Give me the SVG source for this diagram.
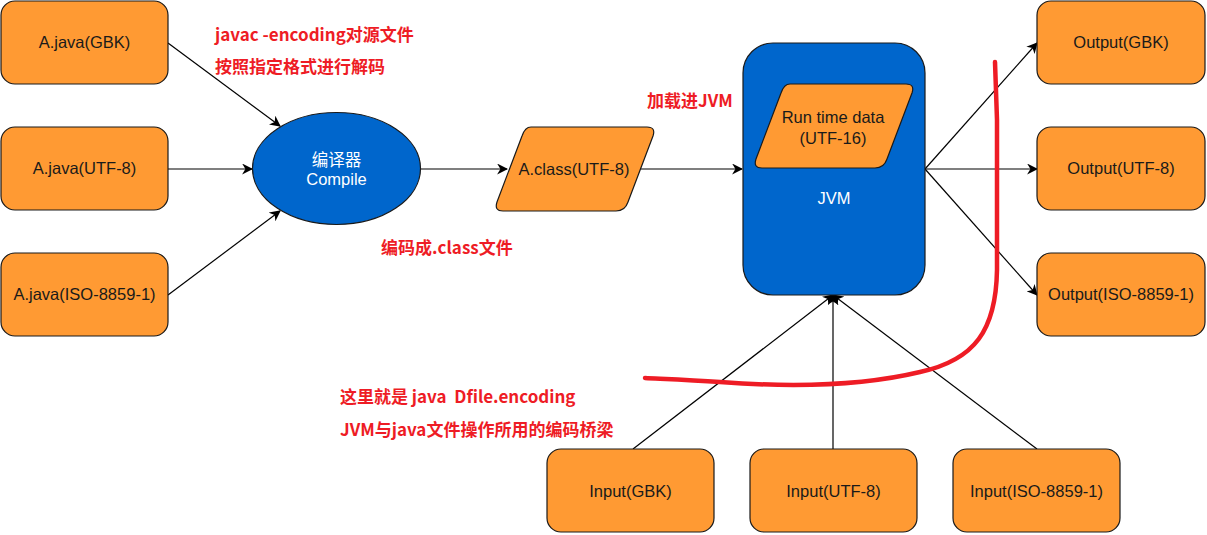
<svg xmlns="http://www.w3.org/2000/svg" width="1207" height="535" viewBox="0 0 1207 535">
<defs>
<style>
.box{fill:#FF9A33;stroke:#1a1a1a;stroke-width:1.2}
.blue{fill:#0066CC;stroke:#1a1a1a;stroke-width:1.2}
.lbl{font-family:"Liberation Sans",Arial,sans-serif;font-size:16.5px;fill:#1a1a1a;text-anchor:middle}
.wlbl{font-family:"Liberation Sans","Noto Sans CJK SC",sans-serif;font-size:16.5px;fill:#ffffff;text-anchor:middle}
.note{font-family:"Noto Sans CJK SC",sans-serif;font-size:17px;font-weight:bold;fill:#EE1C25}
.edge{stroke:#000;stroke-width:1.2;fill:none}
</style>
<marker id="arr" viewBox="0 0 10 10" refX="9" refY="5" markerWidth="11" markerHeight="11" markerUnits="userSpaceOnUse" orient="auto">
<path d="M0,0 L10,5 L0,10 L3,5 z" fill="#000"/>
</marker>
</defs>
<rect width="1207" height="535" fill="#ffffff"/>

<g id="connectors">
<line class="edge" x1="168" y1="43" x2="280" y2="126" marker-end="url(#arr)"/>
<line class="edge" x1="168" y1="169" x2="252" y2="169" marker-end="url(#arr)"/>
<line class="edge" x1="168" y1="295" x2="280" y2="211" marker-end="url(#arr)"/>
<line class="edge" x1="420" y1="169" x2="507" y2="169" marker-end="url(#arr)"/>
<line class="edge" x1="641" y1="169" x2="742" y2="169" marker-end="url(#arr)"/>
<line class="edge" x1="925" y1="169" x2="1037" y2="43" marker-end="url(#arr)"/>
<line class="edge" x1="925" y1="169" x2="1037" y2="169" marker-end="url(#arr)"/>
<line class="edge" x1="925" y1="169" x2="1037" y2="295" marker-end="url(#arr)"/>
<line class="edge" x1="633" y1="449" x2="833" y2="295" marker-end="url(#arr)"/>
<line class="edge" x1="833" y1="449" x2="833" y2="295" marker-end="url(#arr)"/>
<line class="edge" x1="1037" y1="449" x2="833" y2="295" marker-end="url(#arr)"/>
</g>

<g id="src-gbk"><rect class="box" x="1" y="1" width="167" height="83" rx="14"/><text class="lbl" x="84.5" y="48">A.java(GBK)</text></g>
<g id="src-utf8"><rect class="box" x="1" y="127" width="167" height="83" rx="14"/><text class="lbl" x="84.5" y="174">A.java(UTF-8)</text></g>
<g id="src-iso"><rect class="box" x="1" y="253" width="167" height="83" rx="14"/><text class="lbl" x="84.5" y="300">A.java(ISO-8859-1)</text></g>

<g id="compiler"><ellipse class="blue" cx="336.5" cy="168.5" rx="84" ry="56"/>
<text class="wlbl" x="336.5" y="166">编译器</text><text class="wlbl" x="336.5" y="185">Compile</text></g>

<g id="class-file"><path class="box" d="M531,127 L647,127 Q656,127 653,136 L628,202 Q625,211 616,211 L503,211 Q494,211 497,202 L522,136 Q525,127 531,127 Z"/>
<text class="lbl" x="574" y="175">A.class(UTF-8)</text></g>

<g id="jvm"><rect class="blue" x="743" y="43" width="182" height="252" rx="30"/>
<text class="wlbl" x="834" y="204">JVM</text></g>

<g id="runtime"><path class="box" d="M790,84 L906,84 Q915,84 912,93 L887,159 Q884,168 875,168 L762,168 Q753,168 756,159 L781,93 Q784,84 790,84 Z"/>
<text class="lbl" x="833" y="123">Run time data</text><text class="lbl" x="833" y="144">(UTF-16)</text></g>

<g id="out-gbk"><rect class="box" x="1037" y="1" width="168" height="83" rx="14"/><text class="lbl" x="1121" y="48">Output(GBK)</text></g>
<g id="out-utf8"><rect class="box" x="1037" y="127" width="168" height="83" rx="14"/><text class="lbl" x="1121" y="174">Output(UTF-8)</text></g>
<g id="out-iso"><rect class="box" x="1037" y="253" width="168" height="83" rx="14"/><text class="lbl" x="1121" y="300">Output(ISO-8859-1)</text></g>

<g id="in-gbk"><rect class="box" x="547" y="449" width="167" height="83" rx="14"/><text class="lbl" x="630.5" y="497">Input(GBK)</text></g>
<g id="in-utf8"><rect class="box" x="750" y="449" width="167" height="83" rx="14"/><text class="lbl" x="833.5" y="497">Input(UTF-8)</text></g>
<g id="in-iso"><rect class="box" x="953" y="449" width="167" height="83" rx="14"/><text class="lbl" x="1036.5" y="497">Input(ISO-8859-1)</text></g>

<g id="notes">
<text class="note" x="215" y="41">javac -encoding对源文件</text>
<text class="note" x="215" y="73">按照指定格式进行解码</text>
<text class="note" x="381" y="254">编码成.class文件</text>
<text class="note" x="647" y="107">加载进JVM</text>
<text class="note" x="340" y="403" xml:space="preserve">这里就是 java  Dfile.encoding</text>
<text class="note" x="340" y="436">JVM与java文件操作所用的编码桥梁</text>
</g>

<g id="red-mark">
<path d="M995,62 L997,120 L997,270 C996,330 975,360 920,372 C870,384 800,388 720,382 C690,380 665,379 645,378" fill="none" stroke="#EE1C25" stroke-width="4.5" stroke-linecap="round"/>
</g>
</svg>
